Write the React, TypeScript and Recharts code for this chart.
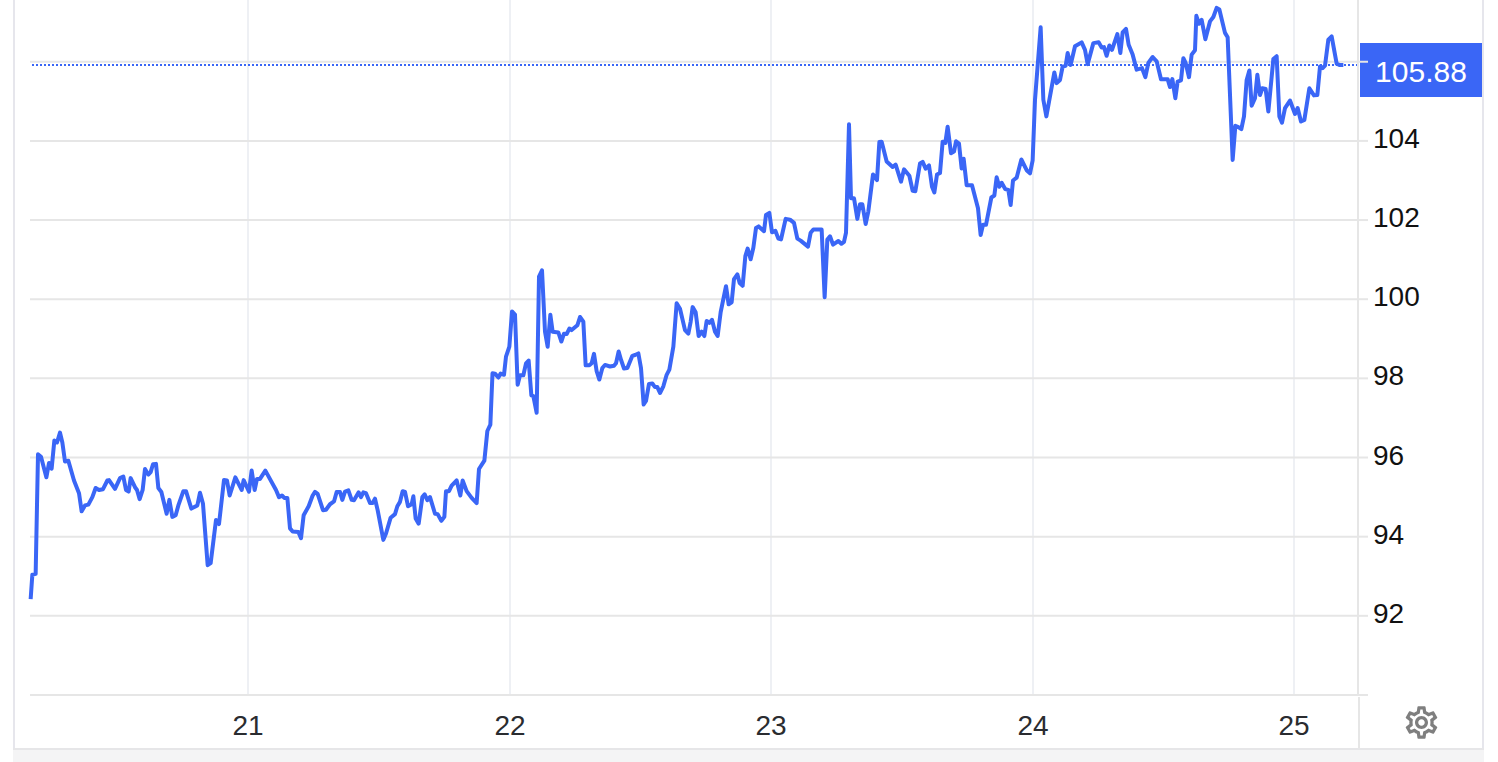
import { Line, LineChart, ReferenceLine, XAxis, YAxis } from "recharts";

const BLUE = "#3a66f6";

// x unit is one chart period, the five years run over about 262 of them
const periods = [
  0.13, 0.47, 1.13, 1.6, 2.2, 3.27, 3.8, 4.33, 4.87, 5.4, 6, 6.47, 7, 7.67, 8.8, 9.8, 10.33, 11, 11.67, 12.47,
  13.13, 13.8, 14.6, 15.47, 15.8, 17, 18, 18.67, 19.2, 19.73, 20.13, 21, 21.4, 21.93, 22.53, 23, 23.67, 24.13, 24.6, 25.2,
  25.67, 26.27, 27.33, 27.87, 28.47, 29.13, 29.67, 30.67, 31.2, 32.27, 33.47, 34, 34.6, 35.53, 36.13, 37.2, 37.8, 38.8, 39.4, 39.93,
  41.07, 42.33, 42.73, 43.8, 44.33, 44.93, 45.4, 46, 47.07, 49.2, 49.8, 50.4, 50.87, 51.47, 52, 52.53, 53.67, 54.2, 54.73, 55.73,
  56.53, 57, 57.53, 58.6, 59.2, 60, 60.8, 61.33, 62, 62.47, 63, 63.67, 64.33, 64.8, 65.73, 66.2, 66.67, 67.2, 68, 68.53,
  69, 69.53, 70.67, 71.2, 72.13, 73, 73.47, 74, 74.53, 75, 75.6, 76.33, 76.67, 77.13, 77.73, 78.47, 78.93, 79.47, 80, 81,
  81.53, 82.27, 82.87, 83.2, 83.8, 84.33, 85.33, 86.07, 86.53, 87.33, 88.33, 89.33, 89.8, 90.87, 91.47, 92.07,
  92.5, 93, 93.67, 94.13, 94.8, 95.2, 95.87, 96.4, 97, 97.53, 98, 98.67, 99.2, 99.73, 100.27, 100.67, 101.33, 101.8, 102.4, 103,
  103.53, 104.07, 104.53, 105.67, 106.27, 106.8, 107.33, 107.87, 108.33, 109.47, 110, 110.67, 111.13, 111.87, 112.33, 112.8, 113.33, 113.87, 114.47, 115,
  116, 116.8, 117.2, 117.73, 118.2, 118.8, 119.47, 120.47, 121, 121.67, 122.2, 122.73, 123.2, 123.8, 124.47, 125, 125.47, 126, 126.67, 127.33,
  127.87, 128.67, 129.33, 130, 131, 131.67, 132.13, 132.53, 133.13, 133.73, 134.33, 134.87, 135.33, 135.87, 136.4, 137, 137.53, 138.13, 139.2, 139.73,
  140.33, 140.8, 141.47, 141.93, 142.53, 143.07, 143.53, 144.13, 144.67, 145.2, 145.73, 146.8, 147.2, 147.87, 148.4, 149.07, 149.67, 150.2, 151.13, 152,
  152.8, 153.47, 154.13, 155.6, 156.13, 156.67, 158.33, 158.93, 159.47, 160, 160.6, 161.67, 162.27, 162.8,
  163.2, 163.8, 164.2, 164.8, 165.47, 166, 166.47, 167.13, 167.67, 168.6, 169.4, 169.87, 170.33, 171.33, 172.53, 173.13, 174.2, 174.8, 175.87, 176.53,
  177.07, 178, 178.53, 179.13, 179.8, 180.4, 180.87, 181.4, 182, 182.53, 183.07, 183.53, 184.2, 184.8, 185.2, 185.8, 186.33, 186.73, 187.33, 188.4,
  189.6, 190.13, 190.6, 191.2, 192.27, 192.87, 193.33, 193.87, 194.33, 195.07, 195.67, 196.13, 196.6, 197.33, 198.27, 199.33, 200, 200.53,
  201, 202.13, 202.67, 203.27, 204.87, 205.33, 206, 206.53, 207.13, 207.53, 208.13, 209, 210.33, 211, 211.53, 212.67, 213.73, 214.33, 214.8, 215.33,
  215.87, 216.4, 217.47, 218.07, 218.53, 219.2, 219.73, 220.53, 221.33, 222.4, 223.07, 223.67, 224.53, 225.33, 226.2, 227.53, 228, 228.47, 229.07, 229.53,
  230.2, 230.67, 231.13, 231.8, 232.33, 233, 233.27, 233.8, 234.33, 235.07, 236, 236.67, 237.33, 237.87, 239, 239.53, 240.53, 241.07, 241.67, 242.27,
  242.8, 243.33, 243.87, 244.33, 245, 245.47, 246, 246.47, 247.13, 247.67, 248.67, 249.33, 249.87, 250.4, 251, 252, 253, 253.53, 254.2, 254.87,
  255.87, 256.8, 257.47, 258, 258.53, 259, 259.67, 260.33, 261.33, 261.87, 262.67,
];

const prices = [
  92.42, 93.04, 93.06, 96.08, 96.02, 95.5, 95.86, 95.72, 96.43, 96.38, 96.63, 96.38, 95.9, 95.92, 95.42, 95.1, 94.64, 94.79, 94.81, 95,
  95.23, 95.18, 95.2, 95.42, 95.43, 95.21, 95.48, 95.52, 95.18, 95.14, 95.48, 95.25, 95.18, 94.95, 95.18, 95.71, 95.57, 95.63, 95.83, 95.84,
  95.23, 95.13, 94.58, 94.93, 94.5, 94.54, 94.79, 95.15, 95.15, 94.71, 94.79, 95.11, 94.83, 93.28, 93.33, 94.42, 94.32, 95.43, 95.42, 95.04,
  95.5, 95.18, 95.43, 95.14, 95.67, 95.18, 95.46, 95.46, 95.67, 95.18, 95, 95.04, 94.98, 94.98, 94.21, 94.13, 94.12, 93.96, 94.54, 94.77,
  95.04, 95.13, 95.08, 94.67, 94.68, 94.82, 94.89, 95.13, 95.13, 94.93, 95.14, 95.17, 94.93, 94.92, 95.12, 95, 95.12, 95.1, 94.85, 94.85,
  94.96, 94.67, 93.92, 94.08, 94.48, 94.57, 94.77, 94.88, 95.15, 95.13, 94.77, 94.82, 95.02, 94.46, 94.33, 95, 95.07, 94.92, 95, 94.58,
  94.57, 94.4, 94.5, 95.15, 95.15, 95.29, 95.42, 95.04, 95.42, 95.15, 94.98, 94.85, 95.71, 95.92, 96.67, 96.83,
  98.13, 98.12, 98.02, 98.12, 98.09, 98.55, 98.8, 99.69, 99.61, 97.84, 98.08, 98.08, 98.38, 98.45, 97.57, 97.55, 97.13, 100.57, 100.73, 99.18,
  98.8, 99.61, 99.18, 99.16, 98.93, 99.13, 99.12, 99.26, 99.22, 99.34, 99.55, 99.43, 98.33, 98.33, 98.38, 98.62, 98.18, 97.97, 98.26, 98.34,
  98.3, 98.32, 98.38, 98.68, 98.47, 98.25, 98.26, 98.57, 98.59, 98.63, 98.26, 97.34, 97.43, 97.86, 97.87, 97.78, 97.78, 97.63, 97.8, 98.09,
  98.22, 98.8, 99.9, 99.76, 99.22, 99.13, 99.43, 99.8, 99.67, 99.07, 99.18, 99.07, 99.45, 99.4, 99.48, 99.18, 99.07, 99.67, 100.33, 99.87,
  99.92, 100.51, 100.63, 100.41, 100.34, 101.09, 101.28, 101.01, 101.3, 101.8, 101.84, 101.72, 102.13, 102.18, 101.69, 101.73, 101.53, 101.51, 102.03, 102.01,
  101.93, 101.53, 101.48, 101.33, 101.68, 101.76, 101.76, 100.05, 101.51, 101.59, 101.38, 101.47, 101.4, 101.45,
  101.68, 104.42, 102.55, 102.55, 102.03, 102.4, 102.4, 101.9, 102.22, 103.15, 103.01, 103.97, 103.98, 103.48, 103.34, 103.4, 102.97, 103.28, 103.12, 102.74,
  102.73, 103.43, 103.47, 103.3, 103.38, 102.84, 102.7, 103.15, 103.19, 103.98, 103.95, 104.36, 103.69, 103.73, 103.99, 103.93, 103.3, 103.55, 102.88, 102.88,
  102.3, 101.62, 101.88, 101.88, 102.57, 102.62, 103.08, 102.84, 102.94, 102.78, 102.76, 102.38, 103, 103.07, 103.53, 103.26, 103.18, 103.51,
  105.04, 106.87, 105.04, 104.62, 105.73, 105.46, 105.54, 105.88, 105.9, 106.22, 105.92, 106.39, 106.49, 106.3, 105.94, 106.47, 106.49, 106.36, 106.37, 106.15,
  106.41, 106.3, 106.7, 106.22, 106.74, 106.83, 106.43, 106.18, 105.8, 105.84, 105.61, 105.97, 106.12, 106.01, 105.56, 105.56, 105.36, 105.56, 105.08, 105.5,
  105.53, 106.09, 105.97, 105.61, 106.18, 106.29, 107.16, 106.96, 107.06, 106.57, 107.02, 107.13, 107.36, 107.32, 106.73, 106.62, 103.52, 104.38, 104.35, 104.3,
  104.62, 105.54, 105.78, 104.89, 105.08, 105.67, 105.16, 105.33, 105.31, 104.74, 106.07, 106.14, 104.62, 104.46, 104.83, 105.02, 104.68, 104.83, 104.49, 104.53,
  105.33, 105.15, 105.16, 105.88, 105.84, 105.9, 106.56, 106.64, 105.95, 105.92, 105.92,
];

const yearTicks = [43.6, 96, 148.2, 200.6, 252.8];
const yearLabels = ["21", "22", "23", "24", "25"];
const priceTicks = [90, 92, 94, 96, 98, 100, 102, 104, 106];
const hiddenPriceTicks = [90, 106];
const lastLevel = 105.92;
const lastLabel = "105.88";

const data = periods.map((period, i) => ({ period, price: prices[i] }));

const PriceTick = ({ x, y, payload }: any) => {
  if (hiddenPriceTicks.includes(payload.value)) return <g />;
  return (
    <text x={x + 3} y={y - 3} dy={10} fontSize={28} fill="#111" fontFamily="Liberation Sans">
      {payload.value}
    </text>
  );
};

const LastBadge = ({ viewBox }: any) => {
  const left = viewBox.x + viewBox.width + 2;
  return (
    <g>
      <rect x={left} y={43} width={122} height={54} fill={BLUE} />
      <text x={left + 61} y={82} textAnchor="middle" fontSize={30} fill="#fff" fontFamily="Liberation Sans">
        {lastLabel}
      </text>
    </g>
  );
};

export default function App() {
  return (
    <div style={{ position: "absolute", left: 0, top: 0, width: 1498, height: 762, background: "#fff", overflow: "hidden" }}>
      <div style={{ position: "absolute", left: 13, top: 0, width: 2, height: 748, background: "#e6e6ec" }} />
      <div style={{ position: "absolute", left: 1482, top: 0, width: 2, height: 748, background: "#e6e6ec" }} />
      <div style={{ position: "absolute", left: 1358, top: 697, width: 2, height: 51, background: "#e6e6e6" }} />
      <div style={{ position: "absolute", left: 13, top: 748, width: 1471, height: 14, background: "#f4f4f5", borderTop: "2px solid #e6e6e8", boxSizing: "border-box" }} />
      <LineChart
        width={1498}
        height={762}
        data={data}
        margin={{ top: 0, right: 0, bottom: 14, left: 30 }}
        style={{ position: "absolute", left: 0, top: 0 }}
      >
        <XAxis
          dataKey="period"
          type="number"
          domain={[0, 265.6]}
          ticks={yearTicks}
          tickFormatter={(v: number) => yearLabels[yearTicks.indexOf(v)]}
          axisLine={false}
          tickLine={false}
          height={53}
          tickMargin={14}
          interval={0}
          tick={{ fontSize: 28, fill: "#2a2c30", fontFamily: "Liberation Sans" }}
        />
        <YAxis
          orientation="right"
          type="number"
          domain={[90, 107.56]}
          ticks={priceTicks}
          width={140}
          interval={0}
          axisLine={{ stroke: "#e6e6e6", strokeWidth: 2 }}
          tickLine={{ stroke: "#e6e6e6", strokeWidth: 2 }}
          tickSize={10}
          tick={<PriceTick />}
        />
        {yearTicks.map((t) => (
          <ReferenceLine key={t} x={t} stroke="#eef0f4" strokeWidth={2} />
        ))}
        {priceTicks.map((t) => (
          <ReferenceLine key={t} y={t} stroke="#e6e6e6" strokeWidth={2} />
        ))}
        <ReferenceLine y={lastLevel} stroke={BLUE} strokeWidth={2} strokeDasharray="2 2" label={<LastBadge />} />
        <Line
          dataKey="price"
          type="linear"
          stroke={BLUE}
          strokeWidth={4}
          strokeLinejoin="round"
          dot={false}
          activeDot={false}
          isAnimationActive={false}
        />
      </LineChart>
      <svg viewBox="0 0 24 24" width={39} height={39} style={{ position: "absolute", left: 1402, top: 703 }}>
        <path
          fill="#7f7f7f"
          d="M19.43 12.98c.04-.32.07-.64.07-.98 0-.34-.03-.66-.07-.98l2.11-1.65c.19-.15.24-.42.12-.64l-2-3.46c-.09-.16-.26-.25-.44-.25-.06 0-.12.01-.17.03l-2.49 1c-.52-.4-1.08-.73-1.69-.98l-.38-2.65C14.46 2.18 14.25 2 14 2h-4c-.25 0-.46.18-.49.42l-.38 2.65c-.61.25-1.17.59-1.69.98l-2.49-1c-.06-.02-.12-.03-.18-.03-.17 0-.34.09-.43.25l-2 3.46c-.13.22-.07.49.12.64l2.11 1.65c-.04.32-.07.65-.07.98 0 .33.03.66.07.98l-2.11 1.65c-.19.15-.24.42-.12.64l2 3.46c.09.16.26.25.44.25.06 0 .12-.01.17-.03l2.49-1c.52.4 1.08.73 1.69.98l.38 2.65c.03.24.24.42.49.42h4c.25 0 .46-.18.49-.42l.38-2.65c.61-.25 1.17-.59 1.69-.98l2.49 1c.06.02.12.03.18.03.17 0 .34-.09.43-.25l2-3.46c.12-.22.07-.49-.12-.64l-2.11-1.65zm-1.98-1.71c.04.31.05.52.05.73 0 .21-.02.43-.05.73l-.14 1.13.89.7 1.08.84-.7 1.21-1.27-.51-1.04-.42-.9.68c-.43.32-.84.56-1.25.73l-1.06.43-.16 1.13-.2 1.35h-1.4l-.19-1.35-.16-1.13-1.06-.43c-.43-.18-.83-.41-1.23-.71l-.91-.7-1.06.43-1.27.51-.7-1.21 1.08-.84.89-.7-.14-1.13c-.03-.31-.05-.54-.05-.74s.02-.43.05-.73l.14-1.13-.89-.7-1.08-.84.7-1.21 1.27.51 1.04.42.9-.68c.43-.32.84-.56 1.25-.73l1.06-.43.16-1.13.2-1.35h1.39l.19 1.35.16 1.13 1.06.43c.43.18.83.41 1.23.71l.91.7 1.06-.43 1.27-.51.7 1.21-1.07.85-.89.7.14 1.13zM12 8c-2.21 0-4 1.79-4 4s1.79 4 4 4 4-1.79 4-4-1.79-4-4-4zm0 6c-1.1 0-2-.9-2-2s.9-2 2-2 2 .9 2 2-.9 2-2 2z"
        />
      </svg>
    </div>
  );
}
